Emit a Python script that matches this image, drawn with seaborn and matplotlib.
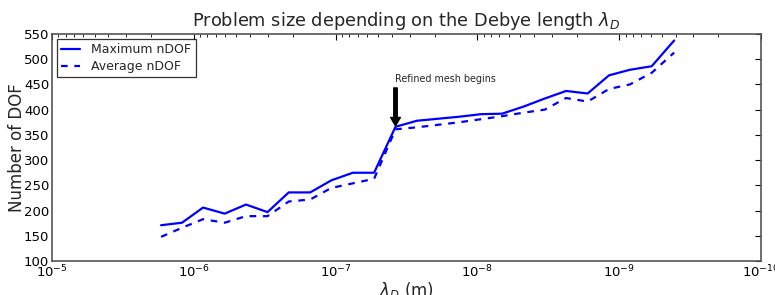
import numpy as np
import pandas as pd
import seaborn as sns
import matplotlib
matplotlib.use("Agg")
import matplotlib.pyplot as plt

# Debye length (m) and number of DOF
lambda_d = [1.70e-6, 1.21e-6, 8.6e-7, 6.05e-7, 4.28e-7, 3.02e-7, 2.14e-7, 1.51e-7,
            1.07e-7, 7.55e-8, 5.35e-8, 3.78e-8, 2.67e-8, 1.89e-8, 1.34e-8, 9.45e-9,
            6.7e-9, 4.73e-9, 3.35e-9, 2.37e-9, 1.67e-9, 1.18e-9, 8.4e-10, 5.9e-10, 4.1e-10]
max_ndof = [171, 176, 206, 194, 212, 197, 236, 236, 260, 275, 275, 366, 378, 382, 386,
            391, 392, 406, 422, 437, 432, 468, 479, 486, 537]
avg_ndof = [148, 166, 183, 176, 189, 189, 218, 222, 245, 254, 263, 361, 365, 370, 375,
            381, 387, 394, 400, 423, 416, 441, 450, 473, 513]
yticks = [100, 150, 200, 250, 300, 350, 400, 450, 500, 550]
mesh_idx = 11  # where the refined mesh begins

df = pd.DataFrame({"lam": lambda_d, "max": max_ndof, "avg": avg_ndof})

sns.set_style("white")
plt.rcParams["font.family"] = ["DejaVu Sans"]

fig = plt.figure(figsize=(7.75, 2.95), dpi=100)
ax = fig.add_axes([0.067, 0.115, 0.915, 0.77])
ax.set_xscale("log")

sns.lineplot(data=df, x="lam", y="max", ax=ax, color="blue", linewidth=1.6,
             sort=False, errorbar=None, label="Maximum nDOF")
sns.lineplot(data=df, x="lam", y="avg", ax=ax, color="blue", linewidth=1.6,
             linestyle="--", dashes=False, sort=False, errorbar=None, label="Average nDOF")
ax.lines[1].set_dashes([3, 3])

ax.set_xlim(1e-5, 1e-10)
ax.set_ylim(100, 550)
ax.set_yticks(yticks)

ax.tick_params(which="both", direction="in", top=True, right=True, labelsize=9.5,
               colors="black", pad=2)
ax.tick_params(which="major", length=4)
ax.tick_params(which="minor", length=2)
for s in ax.spines.values():
    s.set_color("#555555")
    s.set_linewidth(1.2)

ax.set_title(r"Problem size depending on the Debye length $\lambda_D$", fontsize=12.8, pad=6)
ax.set_xlabel(r"$\lambda_D$ (m)", fontsize=12, labelpad=0)
ax.set_ylabel("Number of DOF", fontsize=12)
ax.yaxis.set_label_coords(-0.037, 0.5)

ax.annotate("", xy=(lambda_d[mesh_idx], 368), xytext=(lambda_d[mesh_idx], 443),
            arrowprops=dict(facecolor="black", edgecolor="black", width=2.5,
                            headwidth=7, headlength=6, shrink=0))
ax.text(lambda_d[mesh_idx], 451, "Refined mesh begins", fontsize=6.9, ha="left", va="bottom")

leg = ax.legend(loc="upper left", fontsize=9, frameon=True, fancybox=False,
                handlelength=1.5, handletextpad=0.9, labelspacing=0.3,
                borderpad=0.35, borderaxespad=0.4)
leg.get_frame().set_edgecolor("black")
leg.get_frame().set_linewidth(0.9)

fig.savefig("out.png", dpi=100)
